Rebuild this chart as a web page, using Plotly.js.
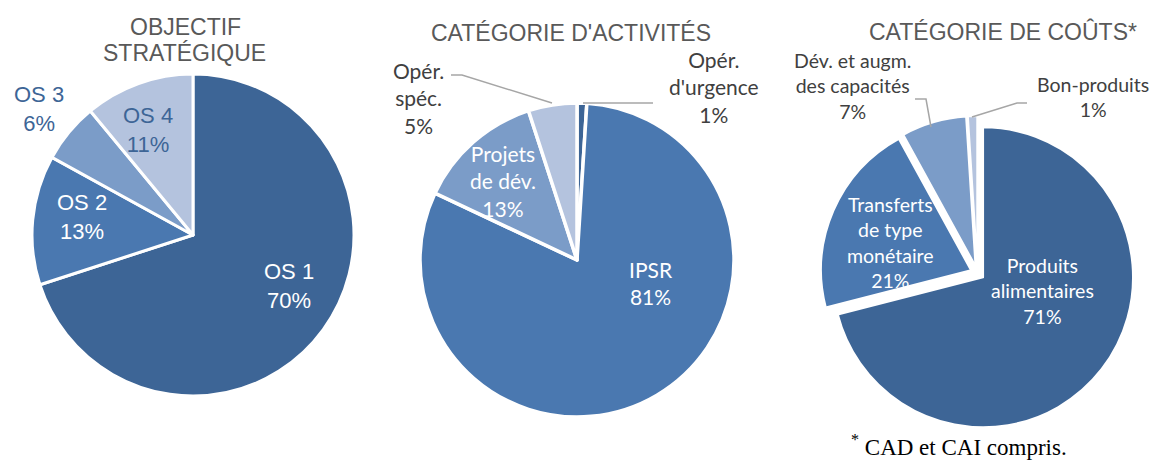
<!DOCTYPE html>
<html>
<head>
<meta charset="utf-8">
<script src="https://cdn.plot.ly/plotly-3.0.1.min.js"></script>
<style>html,body{margin:0;padding:0;background:#fff;}#chart{width:1153px;height:461px;}</style>
</head>
<body>
<div id="chart"></div>
<script>
// ---- data ----
const objLabels = ['OS 1', 'OS 2', 'OS 3', 'OS 4'];
const objValues = [70, 13, 6, 11];

const actLabels = ["Opér.<br>d'urgence", 'IPSR', 'Projets<br>de dév.', 'Opér.<br>spéc.'];
const actValues = [1, 81, 13, 5];

const costLabels = ['Produits<br>alimentaires', 'Transferts<br>de type<br>monétaire', 'Dév. et augm.<br>des capacités', 'Bon-produits'];
const costValues = [71, 21, 7, 1];

const titles = [['OBJECTIF', 'STRATÉGIQUE'], ["CATÉGORIE D'ACTIVITÉS"], ['CATÉGORIE DE COÛTS*']];
const footnote = '<sup>*</sup> CAD et CAI compris.';

// ---- style ----
const W = 1153, H = 461;
const px = x => x / W;
const py = y => 1 - y / H;
const shades = ['#3d6596', '#4a78b0', '#7b9cc8', '#b4c3de'];
const actColors = ['#3d6596', '#4a78b0', '#7b9cc8', '#b4c3de'];

function pieTrace(labels, values, colors, dom, lw, pull) {
  return {
    type: 'pie', labels: labels, values: values, sort: false, direction: 'clockwise',
    rotation: 0, textinfo: 'none', hoverinfo: 'label+percent', showlegend: false,
    marker: {colors: colors, line: {color: '#ffffff', width: lw}},
    pull: pull || 0,
    domain: {x: [px(dom[0]), px(dom[1])], y: [py(dom[3]), py(dom[2])]}
  };
}

const data = [
  pieTrace(objLabels, objValues, shades, [32, 354, 74, 396], 3),
  pieTrace(actLabels, actValues, actColors, [420, 734, 103, 417], 3.5),
  pieTrace(costLabels, costValues, shades, [820.5, 1134.5, 116, 430], 2, costValues.map(() => 0.047))
];

// label positions (pixel centres) and colours
const objPos = [[289, 286, '#ffffff'], [82, 217, '#ffffff'], [39, 109, '#3d6596'], [148, 130, '#3d6596']];
const actPos = [[714, 87, '#404040'], [651, 283, '#ffffff'], [503, 181, '#ffffff'], [418, 98, '#404040']];
const costPos = [[1042, 291, '#ffffff'], [890, 243, '#ffffff'], [852, 86, '#404040'], [1093, 97, '#404040']];

const annotations = [];
function addLabels(labels, values, pos, font, size) {
  labels.forEach((l, i) => {
    annotations.push({
      xref: 'paper', yref: 'paper', x: px(pos[i][0]), y: py(pos[i][1]),
      xanchor: 'center', yanchor: 'middle', showarrow: false, align: 'center',
      text: l + '<br>' + values[i] + '%',
      font: {family: font, size: size, color: pos[i][2]}
    });
  });
}
addLabels(objLabels, objValues, objPos, 'Liberation Sans, Arial, sans-serif', 22);
addLabels(actLabels, actValues, actPos, 'Lato, sans-serif', 21);
addLabels(costLabels, costValues, costPos, 'Lato, sans-serif', 19.5);

// titles
const titlePos = [[[185, 27], [184, 53]], [[571, 33]], [[1003, 32]]];
titles.forEach((lines, t) => {
  lines.forEach((txt, k) => {
    annotations.push({
      xref: 'paper', yref: 'paper', x: px(titlePos[t][k][0]), y: py(titlePos[t][k][1]),
      xanchor: 'center', yanchor: 'middle', showarrow: false, text: txt,
      font: {family: 'Liberation Sans, Arial, sans-serif', size: 23, color: '#595959'}
    });
  });
});

annotations.push({
  xref: 'paper', yref: 'paper', x: px(959), y: py(445), xanchor: 'center', yanchor: 'middle',
  showarrow: false, text: footnote,
  font: {family: 'Liberation Serif, Times New Roman, serif', size: 23, color: '#000000'}
});

// leader lines
const leaders = [
  [[451, 75], [462, 75], [552, 103]],
  [[583, 103], [653, 103]],
  [[915, 99], [926, 99], [931, 127]],
  [[1027, 103], [1017, 103], [972, 117]]
];
const shapes = leaders.map(pts => ({
  type: 'path', xref: 'paper', yref: 'paper',
  path: pts.map((p, i) => (i ? 'L' : 'M') + px(p[0]) + ',' + py(p[1])).join(' '),
  line: {color: '#a6a6a6', width: 1.5}
}));

const layout = {
  width: W, height: H, margin: {l: 0, r: 0, t: 0, b: 0},
  paper_bgcolor: '#ffffff', plot_bgcolor: '#ffffff',
  annotations: annotations, shapes: shapes
};

Plotly.newPlot('chart', data, layout, {displayModeBar: false, staticPlot: true});
</script>
</body>
</html>
